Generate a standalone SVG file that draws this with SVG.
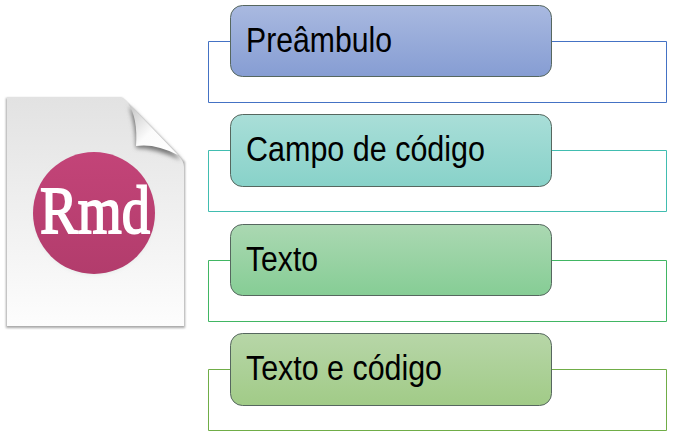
<svg xmlns="http://www.w3.org/2000/svg" width="678" height="438" viewBox="0 0 678 438">
<style>
.frame{fill:none;stroke-width:1}
.box{stroke:#56675f;stroke-width:1}
.label{font-family:"Liberation Sans",Arial,sans-serif;font-size:35px;fill:#000}
</style>
<defs>
<linearGradient id="g1" x1="0" y1="0" x2="0" y2="1"><stop offset="0" stop-color="#a9b9e0"/><stop offset="1" stop-color="#869dd3"/></linearGradient>
<linearGradient id="g2" x1="0" y1="0" x2="0" y2="1"><stop offset="0" stop-color="#a9ded8"/><stop offset="1" stop-color="#88d2c9"/></linearGradient>
<linearGradient id="g3" x1="0" y1="0" x2="0" y2="1"><stop offset="0" stop-color="#abd8b2"/><stop offset="1" stop-color="#86cd95"/></linearGradient>
<linearGradient id="g4" x1="0" y1="0" x2="0" y2="1"><stop offset="0" stop-color="#b7d6a8"/><stop offset="1" stop-color="#a1cb87"/></linearGradient>
<linearGradient id="paper" x1="0" y1="0" x2="0" y2="1"><stop offset="0" stop-color="#e2e2e2"/><stop offset="0.55" stop-color="#f1f1f1"/><stop offset="1" stop-color="#fdfdfd"/></linearGradient>
<linearGradient id="disc" x1="0" y1="0" x2="0" y2="1"><stop offset="0" stop-color="#c34478"/><stop offset="1" stop-color="#b23c6c"/></linearGradient>
<linearGradient id="fold" x1="0" y1="0" x2="1" y2="1"><stop offset="0" stop-color="#c0c0c0"/><stop offset="0.5" stop-color="#fbfbfb"/><stop offset="1" stop-color="#ffffff"/></linearGradient>
<filter id="blur" x="-20%" y="-20%" width="140%" height="140%"><feGaussianBlur stdDeviation="2"/></filter>
<filter id="blur1" x="-20%" y="-20%" width="140%" height="140%"><feGaussianBlur stdDeviation="1"/></filter>
</defs>
<g id="icon">
<path d="M6 98H122L185 162V328H6Z" fill="#a8a8a8" filter="url(#blur1)"/>
<path d="M7 97H118Q124 97 129 103L178 155Q184 161 184 167V326H7Z" fill="url(#paper)"/>
<path d="M129 106Q136 126 136 148Q155 148 181 160Z" fill="#777" filter="url(#blur)"/>
<path d="M128 103Q138 118 136 146Q155 143 178 155Z" fill="url(#fold)"/>
<circle cx="94" cy="214" r="60" fill="#dfe6e4" filter="url(#blur)"/>
<circle cx="94" cy="213" r="61" fill="url(#disc)"/>
<text x="40" y="233" font-family="'Liberation Serif',serif" font-size="67" fill="#fff" stroke="#fff" stroke-width="1.8" textLength="110" lengthAdjust="spacingAndGlyphs">Rmd</text>
</g>
<g id="connectors">
<path class="frame" stroke="#4472c4" d="M230.5 41.500H208.500V102.500H666.500V41.500H551.500"/>
<path class="frame" stroke="#41bdb0" d="M230.5 150.500H208.500V211.500H666.500V150.500H551.500"/>
<path class="frame" stroke="#41b663" d="M230.5 260.500H208.500V321.500H666.500V260.500H551.500"/>
<path class="frame" stroke="#70ad47" d="M230.5 369.500H208.500V430.500H666.500V369.500H551.500"/>
</g>
<g id="node-preambulo">
<rect class="box" x="230.500" y="5.500" width="321" height="71" rx="12" fill="url(#g1)"/>
<text class="label" x="246" y="52" textLength="146" lengthAdjust="spacingAndGlyphs">Preâmbulo</text>
</g>
<g id="node-campo">
<rect class="box" x="230.500" y="114.500" width="321" height="72" rx="12" fill="url(#g2)"/>
<text class="label" x="246" y="161" textLength="239" lengthAdjust="spacingAndGlyphs">Campo de código</text>
</g>
<g id="node-texto">
<rect class="box" x="230.500" y="224.500" width="321" height="71" rx="12" fill="url(#g3)"/>
<text class="label" x="246" y="271" textLength="72" lengthAdjust="spacingAndGlyphs">Texto</text>
</g>
<g id="node-texto-codigo">
<rect class="box" x="230.500" y="333.500" width="321" height="72" rx="12" fill="url(#g4)"/>
<text class="label" x="246" y="380" textLength="196" lengthAdjust="spacingAndGlyphs">Texto e código</text>
</g>
</svg>
